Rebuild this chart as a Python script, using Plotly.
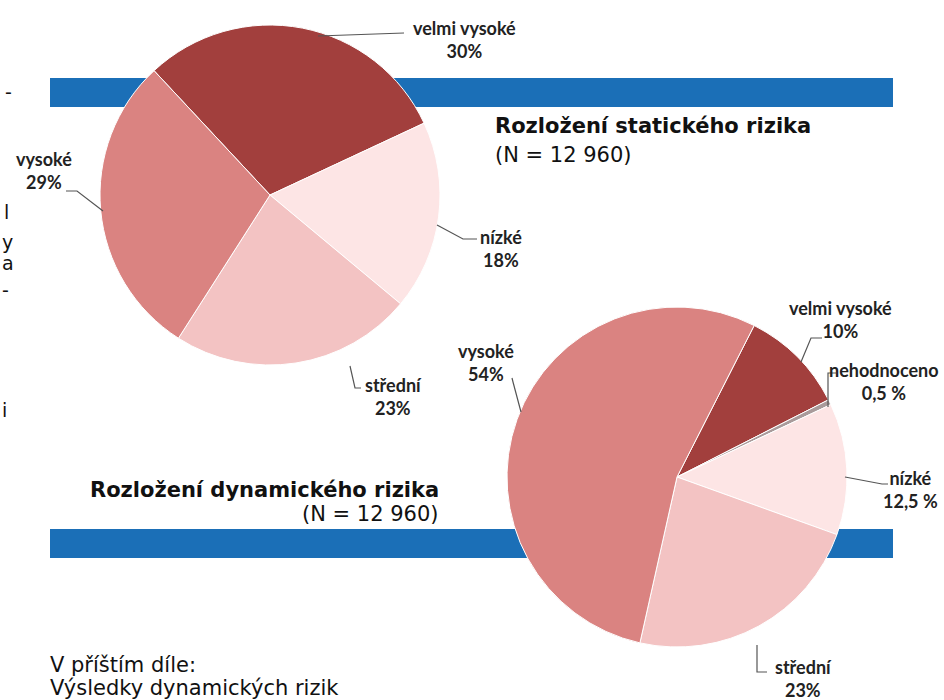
import plotly.graph_objects as go

W, H = 944, 700

# ---- data ----
static_labels = ["velmi vysoké", "nízké", "střední", "vysoké"]
static_values = [30, 18, 23, 29]
static_pct = ["30%", "18%", "23%", "29%"]
static_colors = ["#a23f3d", "#fde5e5", "#f3c3c3", "#da8381"]

dynamic_labels = ["velmi vysoké", "nehodnoceno", "nízké", "střední", "vysoké"]
dynamic_values = [10, 0.5, 12.5, 23, 54]
dynamic_pct = ["10%", "0,5 %", "12,5 %", "23%", "54%"]
dynamic_colors = ["#a23f3d", "#a99b9b", "#fde5e5", "#f3c3c3", "#da8381"]

title_static = "Rozložení statického rizika"
title_dynamic = "Rozložení dynamického rizika"
n_text = "(N = 12 960)"
next_text = ["V příštím díle:", "Výsledky dynamických rizik"]
stray_chars = ["-", "l", "y", "a", "-", "i"]


def px(x):
    return x / W


def py(y):
    return 1 - y / H


fig = go.Figure()

fig.add_trace(go.Pie(
    labels=static_labels, values=static_values, sort=False,
    direction="clockwise", rotation=-43,
    marker=dict(colors=static_colors, line=dict(color="white", width=1)),
    textinfo="none", hoverinfo="label+percent", showlegend=False,
    domain=dict(x=[px(100), px(440)], y=[py(365), py(25)]),
))
fig.add_trace(go.Pie(
    labels=dynamic_labels, values=dynamic_values, sort=False,
    direction="clockwise", rotation=27,
    marker=dict(colors=dynamic_colors, line=dict(color="white", width=1)),
    textinfo="none", hoverinfo="label+percent", showlegend=False,
    domain=dict(x=[px(507), px(847)], y=[py(647), py(307)]),
))

shapes = []
# blue bars
for y0, y1 in [(78, 107), (529, 558)]:
    shapes.append(dict(type="rect", xref="paper", yref="paper",
                       x0=px(50), x1=px(893), y0=py(y1), y1=py(y0),
                       fillcolor="#1b6fb7", line=dict(width=0), layer="below"))

# leader lines
leaders = [
    [(318, 36), (404, 33)],
    [(66, 191), (77, 191), (103, 211)],
    [(437, 225), (463, 239), (477, 239)],
    [(350, 366), (355, 388), (361, 388)],
    [(822, 338), (811, 338), (801, 362)],
    [(836, 373), (828, 373), (828, 407)],
    [(845, 477), (882, 484), (888, 484)],
    [(757, 645), (757, 672), (767, 672)],
    [(512, 378), (513, 382), (521, 412)],
]
for pts in leaders:
    path = "M " + " L ".join(f"{px(x)},{py(y)}" for x, y in pts)
    shapes.append(dict(type="path", xref="paper", yref="paper", path=path,
                       line=dict(color="#555555", width=1.2)))

annotations = []
lab_font = dict(family="Lato", size=18, color="#222222")


def add_label(name, pct, x, y):
    annotations.append(dict(xref="paper", yref="paper", x=px(x), y=py(y),
                            text=f"<b>{name}</b><br><b>{pct}</b>", showarrow=False,
                            xanchor="center", yanchor="middle", align="center",
                            font=lab_font))


static_pos = [(464, 39), (501, 248), (393, 396), (44, 170)]
for name, pct, (x, y) in zip(static_labels, static_pct, static_pos):
    add_label(name, pct, x, y)

dynamic_pos = [(840, 319), (884, 381), (910, 489), (803, 678), (486, 362)]
for name, pct, (x, y) in zip(dynamic_labels, dynamic_pct, dynamic_pos):
    add_label(name, pct, x, y)

tfont_b = dict(family="DejaVu Sans", size=21, color="#111111")
tfont = dict(family="DejaVu Sans", size=21, color="#111111")

annotations += [
    dict(xref="paper", yref="paper", x=px(493), y=py(126), text=f"<b>{title_static}</b>",
         showarrow=False, xanchor="left", yanchor="middle", font=tfont_b),
    dict(xref="paper", yref="paper", x=px(493), y=py(155), text=n_text,
         showarrow=False, xanchor="left", yanchor="middle", font=tfont),
    dict(xref="paper", yref="paper", x=px(441), y=py(490), text=f"<b>{title_dynamic}</b>",
         showarrow=False, xanchor="right", yanchor="middle", font=tfont_b),
    dict(xref="paper", yref="paper", x=px(441), y=py(514), text=n_text,
         showarrow=False, xanchor="right", yanchor="middle", font=tfont),
    dict(xref="paper", yref="paper", x=px(48), y=py(665), text=next_text[0],
         showarrow=False, xanchor="left", yanchor="middle", font=tfont),
    dict(xref="paper", yref="paper", x=px(48), y=py(688), text=next_text[1],
         showarrow=False, xanchor="left", yanchor="middle", font=tfont),
]

stray_pos = [(3, 92), (2, 212), (0, 242), (0, 263), (0, 290), (0, 410)]
for ch, (x, y) in zip(stray_chars, stray_pos):
    annotations.append(dict(xref="paper", yref="paper", x=px(x), y=py(y), text=ch,
                            showarrow=False, xanchor="left", yanchor="middle",
                            font=dict(family="DejaVu Sans", size=19, color="#111111")))

fig.update_layout(
    width=W, height=H, margin=dict(l=0, r=0, t=0, b=0),
    paper_bgcolor="white", plot_bgcolor="white",
    shapes=shapes, annotations=annotations, showlegend=False,
)

fig.write_html(
    "out.html",
    config={"displayModeBar": False},
    post_script="document.body.style.margin='0';document.body.style.padding='0';document.body.style.overflow='hidden';",
)
